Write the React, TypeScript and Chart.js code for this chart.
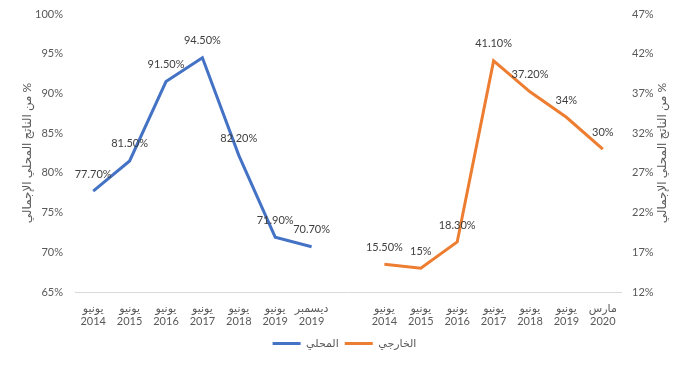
import React, { useEffect, useRef } from "react";
import { Chart, registerables } from "chart.js";

Chart.register(...registerables);

const monthLabels = ["يونيو", "يونيو", "يونيو", "يونيو", "يونيو", "يونيو", "ديسمبر", "", "يونيو", "يونيو", "يونيو", "يونيو", "يونيو", "يونيو", "مارس"];
const yearLabels = ["2014", "2015", "2016", "2017", "2018", "2019", "2019", "", "2014", "2015", "2016", "2017", "2018", "2019", "2020"];

const localValues = [77.7, 81.5, 91.5, 94.5, 82.2, 71.9, 70.7, null, null, null, null, null, null, null, null];
const externalValues = [null, null, null, null, null, null, null, null, 15.5, 15, 18.3, 41.1, 37.2, 34, 30];

const localLabels = ["77.70%", "81.50%", "91.50%", "94.50%", "82.20%", "71.90%", "70.70%"];
const externalLabels = ["15.50%", "15%", "18.30%", "41.10%", "37.20%", "34%", "30%"];

const seriesNames = ["المحلي", "الخارجي"];
const axisTitle = "% من الناتج المحلي الإجمالي";

const FONT = "Lato, 'DejaVu Sans', sans-serif";

export default function App() {
  const ref = useRef<HTMLCanvasElement | null>(null);

  useEffect(() => {
    if (!ref.current) return;
    const labelSets = [
      localValues.map((v, i) => (v == null ? "" : localLabels[i])),
      externalValues.map((v, i) => (v == null ? "" : externalLabels[i - 8])),
    ];

    const dataLabelPlugin = {
      id: "dataLabels",
      afterDatasetsDraw(chart: any) {
        const ctx = chart.ctx;
        ctx.save();
        ctx.font = `11px ${FONT}`;
        ctx.fillStyle = "#404040";
        ctx.textAlign = "center";
        ctx.textBaseline = "middle";
        chart.data.datasets.forEach((ds: any, i: number) => {
          const meta = chart.getDatasetMeta(i);
          meta.data.forEach((pt: any, j: number) => {
            if (ds.data[j] == null) return;
            ctx.fillText(labelSets[i][j], pt.x, pt.y - 17);
          });
        });
        ctx.restore();
      },
    };

    const axisTitlePlugin = {
      id: "axisTitles",
      afterDraw(chart: any) {
        const ctx = chart.ctx;
        const a = chart.chartArea;
        const cy = (a.top + a.bottom) / 2;
        ctx.save();
        ctx.font = `12px ${FONT}`;
        ctx.fillStyle = "#595959";
        ctx.textAlign = "center";
        ctx.textBaseline = "middle";
        (ctx as any).direction = "rtl";
        [27, 662].forEach((x) => {
          ctx.save();
          ctx.translate(x, cy);
          ctx.rotate(-Math.PI / 2);
          ctx.fillText(axisTitle, 0, 0);
          ctx.restore();
        });
        ctx.restore();
      },
    };

    const chart = new Chart(ref.current, {
      type: "line",
      data: {
        labels: monthLabels.map((m, i) => [m, yearLabels[i]]),
        datasets: [
          {
            label: seriesNames[0],
            data: localValues,
            borderColor: "#4472C4",
            backgroundColor: "#4472C4",
            borderWidth: 3,
            pointRadius: 0,
            pointStyle: "line",
            yAxisID: "y",
            tension: 0,
          },
          {
            label: seriesNames[1],
            data: externalValues,
            borderColor: "#ED7D31",
            backgroundColor: "#ED7D31",
            borderWidth: 3,
            pointRadius: 0,
            pointStyle: "line",
            yAxisID: "y1",
            tension: 0,
          },
        ],
      },
      options: {
        responsive: false,
        animation: false,
        layout: { padding: { top: 14, bottom: 6, left: 0, right: 0 } },
        plugins: {
          tooltip: { enabled: false },
          legend: {
            position: "bottom",
            labels: {
              usePointStyle: true,
              pointStyleWidth: 28,
              boxWidth: 28,
              padding: 6,
              color: "#595959",
              font: { size: 11, family: FONT },
            },
          },
        },
        scales: {
          x: {
            offset: true,
            grid: { display: false },
            border: { display: true, color: "#D9D9D9", width: 1 },
            ticks: {
              autoSkip: false,
              maxRotation: 0,
              color: "#595959",
              padding: 2,
              font: { size: 11, family: FONT, lineHeight: 1.2 },
            },
            afterFit(s: any) {
              s.height = 40;
            },
          },
          y: {
            position: "left",
            min: 65,
            max: 100,
            grid: { display: false },
            border: { display: false },
            ticks: {
              stepSize: 5,
              padding: 4,
              color: "#595959",
              font: { size: 11, family: FONT },
              callback: (v: any) => v + "%",
            },
            afterFit(s: any) {
              s.width = 75;
            },
          },
          y1: {
            position: "right",
            min: 12,
            max: 47,
            grid: { display: false },
            border: { display: false },
            ticks: {
              stepSize: 5,
              padding: 3,
              color: "#595959",
              font: { size: 11, family: FONT },
              callback: (v: any) => v + "%",
            },
            afterFit(s: any) {
              s.width = 68;
            },
          },
        },
      },
      plugins: [dataLabelPlugin, axisTitlePlugin],
    } as any);

    return () => chart.destroy();
  }, []);

  return (
    <div style={{ position: "absolute", left: 0, top: 0, width: 689, height: 365, background: "#fff" }}>
      <canvas ref={ref} width={689} height={365} />
    </div>
  );
}
